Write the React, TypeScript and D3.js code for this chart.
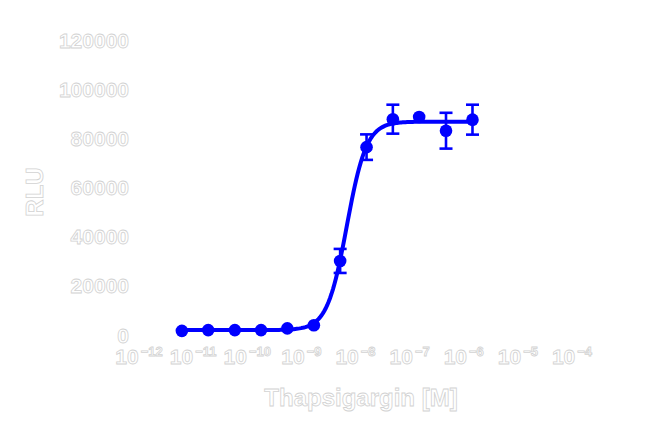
import React from "react";
import * as d3 from "d3";

const concentrations = [6.2e-12, 1.9e-11, 5.9e-11, 1.8e-10, 5.5e-10, 1.7e-9, 5.2e-9, 1.6e-8, 4.9e-8, 1.5e-7, 4.7e-7, 1.45e-6];
const rlu = [1700, 2000, 2000, 2000, 2700, 4000, 30200, 76600, 88000, 88900, 83300, 87800];
const sem = [0, 0, 0, 0, 0, 0, 4900, 5200, 5900, 0, 7300, 6100];
const xTickExps = [-12, -11, -10, -9, -8, -7, -6, -5, -4];
const yTicks = [0, 20000, 40000, 60000, 80000, 100000, 120000];
const fit = { bottom: 2000, top: 87000, logEC50: -8.16, hill: 2.39 };

const W = 650, H = 429;
const textStyle = { fill: "#ffffff", stroke: "#d2d2d2", strokeWidth: 0.8, fontFamily: "Liberation Sans, Arial, sans-serif", fontWeight: 700 } as const;
const BLUE = "#0000ff";

export default function App() {
  const x = d3.scaleLog().domain([1e-12, 1e-4]).range([139, 572]);
  const y = d3.scaleLinear().domain([0, 120000]).range([335, 40.7]);
  const lo = Math.log10(concentrations[0]);
  const hi = Math.log10(concentrations[concentrations.length - 1]);
  const curvePts = d3.range(0, 201).map((i) => {
    const lx = lo + ((hi - lo) * i) / 200;
    const v = fit.bottom + (fit.top - fit.bottom) / (1 + Math.pow(10, (fit.logEC50 - lx) * fit.hill));
    return [x(Math.pow(10, lx)), y(v)] as [number, number];
  });
  const line = d3.line().curve(d3.curveLinear)(curvePts) || "";
  return (
    <svg width={W} height={H} style={{ position: "absolute", left: 0, top: 0, background: "#fff" }}>
      {yTicks.map((t) => (
        <text key={t} x={129} y={y(t)} textAnchor="end" dominantBaseline="central" fontSize={21} style={textStyle}>
          {t}
        </text>
      ))}
      {xTickExps.map((e) => (
        <text key={e} x={x(Math.pow(10, e))} y={364} textAnchor="middle" fontSize={21} style={textStyle}>
          10
          <tspan fontSize={13} dy={-8} dx={2}>
            {"−" + String(Math.abs(e))}
          </tspan>
        </text>
      ))}
      <text x={361} y={406} textAnchor="middle" fontSize={24} style={textStyle}>
        Thapsigargin [M]
      </text>
      <text transform="translate(43,192) rotate(-90)" textAnchor="middle" fontSize={24} style={textStyle}>
        RLU
      </text>
      <path d={line} fill="none" stroke={BLUE} strokeWidth={4} />
      {concentrations.map((c, i) =>
        sem[i] > 0 ? (
          <g key={"e" + i} stroke={BLUE} strokeWidth={2.6}>
            <line x1={x(c)} x2={x(c)} y1={y(rlu[i] - sem[i])} y2={y(rlu[i] + sem[i])} />
            <line x1={x(c) - 6.5} x2={x(c) + 6.5} y1={y(rlu[i] - sem[i])} y2={y(rlu[i] - sem[i])} />
            <line x1={x(c) - 6.5} x2={x(c) + 6.5} y1={y(rlu[i] + sem[i])} y2={y(rlu[i] + sem[i])} />
          </g>
        ) : null
      )}
      {concentrations.map((c, i) => (
        <circle key={"p" + i} cx={x(c)} cy={y(rlu[i])} r={6.3} fill={BLUE} />
      ))}
    </svg>
  );
}
